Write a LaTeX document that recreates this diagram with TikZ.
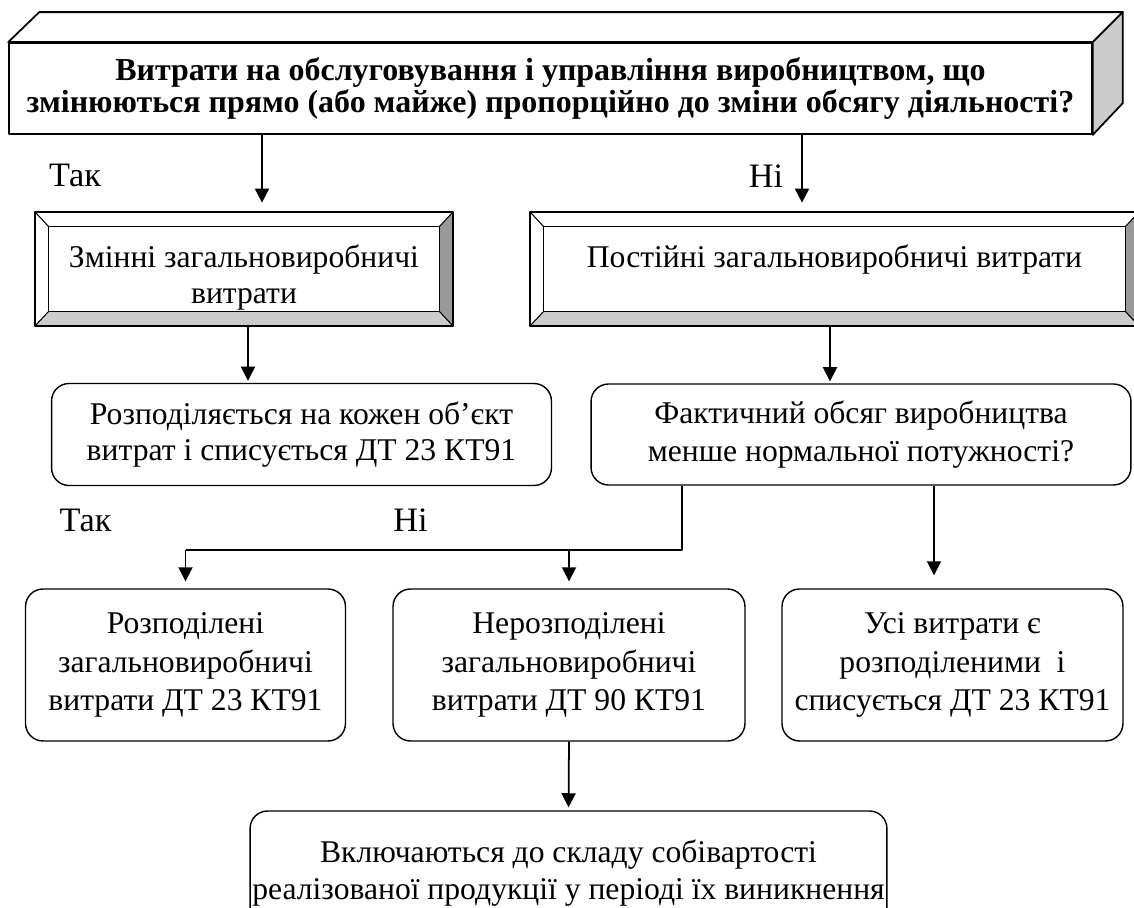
\documentclass[tikz,border=0pt]{standalone}
\usepackage{fontspec}
\setmainfont{Liberation Serif}
\usetikzlibrary{arrows.meta,calc}

\begin{document}
\begin{tikzpicture}[x=0.02cm, y=-0.02cm, line join=round, >={Triangle[width=8pt,length=8pt]},
		font=\fontsize{18}{20.5}\selectfont,
		arr/.style={->, line width=1pt},
		rbox/.style={draw, line width=0.8pt, rounded corners=0.35cm, align=center, inner sep=0pt},
		bevel/.style={align=center, inner sep=0pt, minimum height=2.28cm},
		lbl/.style={anchor=base, font=\fontsize{19.5}{22}\selectfont}]
		\clip (0,0) rectangle (1134,908);
		% main question (3D box)
		\node[draw, line width=1pt, minimum width=21.66cm, minimum height=1.82cm, align=center,
			font=\fontsize{18.2}{15.9}\selectfont\bfseries] (quest) at (550.5,88.5)
			{Витрати на обслуговування і управління виробництвом, що\\змінюються прямо (або майже) пропорційно до зміни обсягу діяльності?};
		\draw[line width=1pt, fill=white] (quest.north west) -- ++(31,-30) -- ($(quest.north east)+(30,-30)$) -- (quest.north east) -- cycle;
		\draw[line width=1pt, fill=gray!40] (quest.north east) -- ++(30,-30) -- ++(0,91) -- (quest.south east) -- cycle;
		% bevel boxes
		\node[bevel, minimum width=8.36cm] (zmin) at (244,269) {\rule{0pt}{25pt}Змінні загальновиробничі\\\strut витрати};
		\node[bevel, minimum width=12.18cm] (post) at (834.5,269) {\rule{0pt}{25pt}Постійні загальновиробничі витрати\\\strut};
		\foreach \b in {zmin,post}{
			\fill[gray!80] (\b.north east) -- ($(\b.north east)+(-14,15)$) -- ($(\b.south east)+(-14,-15)$) -- (\b.south east) -- cycle;
			\fill[gray!40] (\b.south west) -- ($(\b.south west)+(14,-15)$) -- ($(\b.south east)+(-14,-15)$) -- (\b.south east) -- cycle;
			\draw[line width=0.6pt] ($(\b.north west)+(14,15)$) rectangle ($(\b.south east)+(-14,-15)$);
			\draw[line width=0.6pt] (\b.north west) -- ++(14,15) (\b.north east) -- ++(-14,15)
				(\b.south west) -- ++(14,-15) (\b.south east) -- ++(-14,-15);
			\draw[line width=1.2pt] (\b.north west) rectangle (\b.south east);
		}
		% rounded boxes
		\node[rbox, minimum width=10cm, minimum height=2.04cm] (rozp) at (301.5,434.5) {Розподіляється на кожен об’єкт\\витрат і списується ДТ 23 КТ91};
		\node[rbox, minimum width=10.8cm, minimum height=2.02cm, font=\fontsize{18}{21.5}\selectfont] (fakt) at (861,434.5) {Фактичний обсяг виробництва\\менше нормальної потужності?};
		\begin{scope}[every node/.append style={font=\fontsize{18}{21.8}\selectfont}]
			\node[rbox, minimum width=6.4cm, minimum height=3.04cm] (rozd) at (185.5,665) {Розподілені\\загальновиробничі\\витрати ДТ 23 КТ91};
			\node[rbox, minimum width=7.04cm, minimum height=3.04cm] (neroz) at (569,665) {Нерозподілені\\загальновиробничі\\витрати ДТ 90 КТ91};
			\node[rbox, minimum width=6.82cm, minimum height=3.04cm] (usi) at (952.5,665) {Усі витрати є\\розподіленими\ \ і\\списується ДТ 23 КТ91};
		\end{scope}
		\node[rbox, minimum width=12.74cm, minimum height=2.48cm, font=\fontsize{18}{21}\selectfont] (vkl) at (568.5,873) {Включаються до складу собівартості\\реалізованої продукції у періоді їх виникнення};
		% labels
		\node[lbl] (tak1) at (75,187) {Так};
		\node[lbl] (ni1) at (766,188) {Ні};
		\node[lbl] (tak2) at (85.5,532) {Так};
		\node[lbl] (ni2) at (410.5,532) {Ні};
		% connectors
		\draw[arr, shorten >=0.18cm] (quest.south -| 262,0) -- (zmin.north -| 262,0);
		\draw[arr, shorten >=0.18cm] (quest.south -| 802,0) -- (post.north -| 802,0);
		\draw[arr, shorten >=0.04cm] (zmin.south -| 248,0) -- (rozp.north -| 248,0);
		\draw[arr, shorten >=0.04cm] (post.south -| 830,0) -- (fakt.north -| 830,0);
		\coordinate (split) at (682,550);
		\draw[line width=1pt] (fakt.south -| split) -- (split) -- (split -| rozd);
		\draw[arr, shorten >=0.14cm] (split -| rozd) -- (rozd.north);
		\draw[arr, shorten >=0.14cm] (split -| neroz) -- (neroz.north);
		\draw[arr, shorten >=0.26cm] (fakt.south -| 934,0) -- (usi.north -| 934,0);
		\draw[arr, shorten >=0.06cm] (neroz.south) -- (vkl.north);
\end{tikzpicture}
\end{document}
